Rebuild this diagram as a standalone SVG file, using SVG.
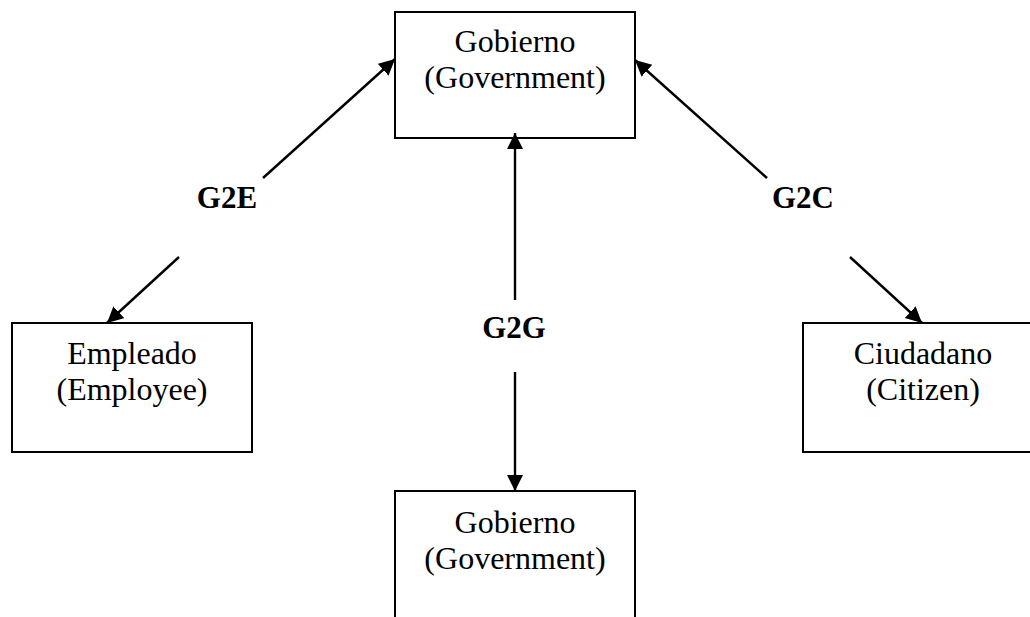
<svg xmlns="http://www.w3.org/2000/svg" width="1030" height="617" viewBox="0 0 1030 617">
<style>
.box{fill:#fff;stroke:#000;stroke-width:2}
.lbl{font-family:"Liberation Serif","Times New Roman",serif;font-size:32px;fill:#000;text-anchor:middle}
.edge{font-family:"Liberation Serif","Times New Roman",serif;font-size:31px;font-weight:bold;fill:#000;text-anchor:middle}
.con{stroke:#000;stroke-width:2.4;fill:none;marker-end:url(#arr)}
</style>
<defs>
<marker id="arr" markerUnits="userSpaceOnUse" markerWidth="18" markerHeight="18" refX="16" refY="8" orient="auto">
<path d="M0,0 L16,8 L0,16 z" fill="#000"/>
</marker>
</defs>
<rect width="1030" height="617" fill="#fff"/>
<g id="gov-top">
<rect class="box" x="395" y="12" width="240" height="126"/>
<text class="lbl" x="515" y="52">Gobierno</text>
<text class="lbl" x="515" y="88">(Government)</text>
</g>
<g id="employee">
<rect class="box" x="12" y="323" width="240" height="129"/>
<text class="lbl" x="132" y="364">Empleado</text>
<text class="lbl" x="132" y="400">(Employee)</text>
</g>
<g id="citizen">
<rect class="box" x="803" y="323" width="240" height="129"/>
<text class="lbl" x="923" y="364">Ciudadano</text>
<text class="lbl" x="923" y="400">(Citizen)</text>
</g>
<g id="gov-bottom">
<rect class="box" x="395" y="491" width="240" height="140"/>
<text class="lbl" x="515" y="533">Gobierno</text>
<text class="lbl" x="515" y="569">(Government)</text>
</g>
<g id="connectors">
<line class="con" x1="263" y1="178" x2="395" y2="59"/>
<line class="con" x1="179" y1="257" x2="107" y2="323"/>
<line class="con" x1="767" y1="178" x2="635" y2="60"/>
<line class="con" x1="850" y1="257" x2="922" y2="323"/>
<line class="con" x1="515" y1="300" x2="515" y2="133"/>
<line class="con" x1="515" y1="372" x2="515" y2="491"/>
<text class="edge" x="227" y="208">G2E</text>
<text class="edge" x="803" y="208">G2C</text>
<text class="edge" x="514" y="338">G2G</text>
</g>
</svg>
